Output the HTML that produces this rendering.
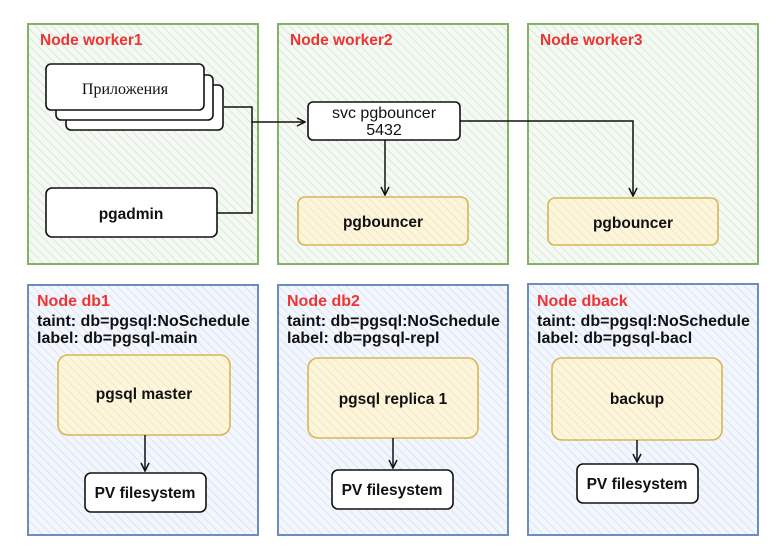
<!DOCTYPE html>
<html><head><meta charset="utf-8"><style>
html,body{margin:0;padding:0;background:#fff;}
svg{display:block;}
text{font-family:"Liberation Sans","Noto Sans CJK SC",sans-serif;}
</style></head><body>
<svg width="774" height="551" viewBox="0 0 774 551" xmlns="http://www.w3.org/2000/svg">
<defs>
<pattern id="hg" width="6" height="6" patternUnits="userSpaceOnUse" patternTransform="rotate(-45)">
<rect width="6" height="6" fill="#f4f9f3"/><line x1="0" y1="0" x2="0" y2="6" stroke="#c9dfc6" stroke-width="1.2"/></pattern>
<pattern id="hb" width="6" height="6" patternUnits="userSpaceOnUse" patternTransform="rotate(-45)">
<rect width="6" height="6" fill="#f3f7fd"/><line x1="0" y1="0" x2="0" y2="6" stroke="#c6d8f0" stroke-width="1.2"/></pattern>
<pattern id="hy" width="6" height="6" patternUnits="userSpaceOnUse" patternTransform="rotate(-45)">
<rect width="6" height="6" fill="#fdf6dc"/><line x1="0" y1="0" x2="0" y2="6" stroke="#eadfb0" stroke-width="1.2"/></pattern>
<marker id="ar" markerWidth="10" markerHeight="10" refX="9" refY="5" orient="auto" markerUnits="userSpaceOnUse">
<path d="M1,1 L9,5 L1,9" fill="none" stroke="#111" stroke-width="1.5"/></marker>
</defs>

<rect x="28" y="24" width="230" height="240" fill="url(#hg)" stroke="#82b366" stroke-width="2"/>
<rect x="278" y="24" width="230" height="240" fill="url(#hg)" stroke="#82b366" stroke-width="2"/>
<rect x="528" y="24" width="230" height="240" fill="url(#hg)" stroke="#82b366" stroke-width="2"/>
<g font-size="15.5" font-weight="bold" fill="#ee3333">
<text x="40" y="45">Node worker1</text>
<text x="290" y="45">Node worker2</text>
<text x="540" y="45">Node worker3</text>
</g>

<rect x="28" y="285" width="230" height="250" fill="url(#hb)" stroke="#6c8ebf" stroke-width="2"/>
<rect x="278" y="285" width="230" height="250" fill="url(#hb)" stroke="#6c8ebf" stroke-width="2"/>
<rect x="528" y="284" width="230" height="251" fill="url(#hb)" stroke="#6c8ebf" stroke-width="2"/>
<g font-size="16" font-weight="bold">
<text x="37" y="306" fill="#ee3333">Node db1</text>
<text x="37" y="326" fill="#111">taint: db=pgsql:NoSchedule</text>
<text x="37" y="343" fill="#111">label: db=pgsql-main</text>
<text x="287" y="306" fill="#ee3333">Node db2</text>
<text x="287" y="326" fill="#111">taint: db=pgsql:NoSchedule</text>
<text x="287" y="343" fill="#111">label: db=pgsql-repl</text>
<text x="537" y="306" fill="#ee3333">Node dback</text>
<text x="537" y="326" fill="#111">taint: db=pgsql:NoSchedule</text>
<text x="537" y="343" fill="#111">label: db=pgsql-bacl</text>
</g>

<g fill="#fff" stroke="#111" stroke-width="1.6">
<rect x="66" y="85" width="157" height="45" rx="5"/>
<rect x="56" y="75" width="157" height="45" rx="5"/>
<rect x="46" y="64" width="158" height="46" rx="5"/>
<rect x="46" y="188" width="171" height="49" rx="6"/>
<rect x="308" y="102" width="152" height="38" rx="5"/>
<rect x="85" y="473" width="121" height="39" rx="6"/>
<rect x="332" y="470" width="121" height="39" rx="6"/>
<rect x="577" y="464" width="121" height="39" rx="6"/>
</g>
<g fill="url(#hy)" stroke="#d6b656" stroke-width="1.6">
<rect x="298" y="197" width="170" height="48" rx="7"/>
<rect x="548" y="198" width="170" height="47" rx="7"/>
<rect x="58" y="355" width="172" height="80" rx="10"/>
<rect x="308" y="358" width="170" height="80" rx="10"/>
<rect x="552" y="358" width="170" height="82" rx="10"/>
</g>

<text x="125" y="94" font-size="16" text-anchor="middle" fill="#111" style="font-family:'Liberation Serif',serif">Приложения</text>
<g font-size="15.5" font-weight="bold" fill="#111" text-anchor="middle">
<text x="131" y="219">pgadmin</text>
<text x="383" y="227">pgbouncer</text>
<text x="633" y="228">pgbouncer</text>
<text x="144" y="399">pgsql master</text>
<text x="393" y="404">pgsql replica 1</text>
<text x="637" y="404">backup</text>
<text x="145" y="498">PV filesystem</text>
<text x="392" y="495">PV filesystem</text>
<text x="637" y="489">PV filesystem</text>
</g>
<g font-size="16" fill="#111" text-anchor="middle">
<text x="384" y="118">svc pgbouncer</text>
<text x="384" y="135">5432</text>
</g>

<g fill="none" stroke="#111" stroke-width="1.5">
<path d="M224,107 H252 V122"/>
<path d="M217,213 H252 V122 H305" marker-end="url(#ar)"/>
<path d="M385,140 V195" marker-end="url(#ar)"/>
<path d="M460,121 H633 V196" marker-end="url(#ar)"/>
<path d="M145,435 V471" marker-end="url(#ar)"/>
<path d="M393,438 V468" marker-end="url(#ar)"/>
<path d="M637,440 V462" marker-end="url(#ar)"/>
</g>
</svg>
</body></html>
